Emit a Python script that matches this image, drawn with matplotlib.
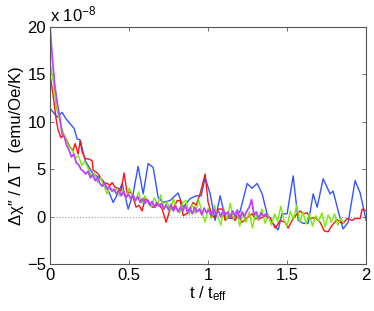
import matplotlib
matplotlib.use("Agg")
import matplotlib.pyplot as plt
import numpy as np

plt.rcParams['font.family'] = ['Liberation Sans', 'DejaVu Sans']
plt.rcParams['mathtext.fontset'] = 'custom'
plt.rcParams['mathtext.rm'] = 'Liberation Sans'
plt.rcParams['mathtext.it'] = 'Liberation Sans:italic'

# values in units of 1e-8 emu/Oe/K
blue_t = [0.0, 0.025, 0.044, 0.076, 0.101, 0.127, 0.152, 0.171, 0.19, 0.222,
          0.247, 0.272, 0.304, 0.335, 0.367, 0.399, 0.43, 0.456, 0.494, 0.525,
          0.557, 0.589, 0.62, 0.652, 0.684, 0.715, 0.759, 0.81, 0.842, 0.886,
          0.924, 0.956, 0.981, 1.013, 1.044, 1.076, 1.108, 1.146, 1.177, 1.203,
          1.247, 1.278, 1.31, 1.342, 1.373, 1.405, 1.443, 1.468, 1.5, 1.538,
          1.57, 1.601, 1.633, 1.665, 1.69, 1.728, 1.772, 1.791, 1.823, 1.854,
          1.886, 1.93, 1.962, 2.0]
blue_y = [11.4, 10.9, 10.5, 11.0, 10.3, 9.8, 9.3, 8.2, 8.1, 5.9,
          5.2, 4.5, 4.2, 3.8, 2.8, 1.5, 2.5, 3.5, 0.8, 2.4,
          5.3, 2.4, 5.6, 5.2, 2.0, 1.5, 1.7, 2.5, 1.0, 1.9,
          2.2, 2.2, 4.1, 2.4, -0.4, 2.2, -0.1, -0.2, 0.0, 0.6,
          3.5, 3.0, 3.5, 2.4, 0.3, -0.6, -1.4, 0.3, 0.3, 4.3,
          -0.4, -0.7, -0.7, 2.4, 1.0, 4.0, 2.4, 2.7, 0.6, -1.3,
          -0.6, 3.8, 2.5, -0.4]

red_t = [0.0, 0.019, 0.038, 0.051, 0.07, 0.082, 0.101, 0.127, 0.146, 0.158,
         0.177, 0.19, 0.203, 0.222, 0.241, 0.266, 0.272, 0.291, 0.304, 0.323,
         0.335, 0.361, 0.38, 0.392, 0.411, 0.43, 0.449, 0.468, 0.487, 0.506,
         0.519, 0.544, 0.563, 0.582, 0.601, 0.62, 0.646, 0.665, 0.684, 0.709,
         0.734, 0.759, 0.778, 0.804, 0.823, 0.842, 0.873, 0.905, 0.924, 0.949,
         0.981, 1.0, 1.025, 1.044, 1.063, 1.089, 1.108, 1.139, 1.171, 1.19,
         1.215, 1.247, 1.278, 1.297, 1.329, 1.361, 1.392, 1.424, 1.456, 1.487,
         1.506, 1.538, 1.563, 1.582, 1.601, 1.627, 1.646, 1.677, 1.709, 1.734,
         1.759, 1.785, 1.816, 1.835, 1.854, 1.88, 1.911, 1.93, 1.962, 1.975,
         2.0]
red_y = [14.9, 12.8, 10.3, 9.1, 8.3, 8.6, 8.2, 7.3, 7.0, 7.7,
         6.6, 8.0, 6.8, 6.1, 6.1, 5.9, 4.9, 4.7, 4.5, 4.0,
         3.6, 3.5, 3.3, 3.6, 3.1, 3.0, 2.7, 4.6, 2.5, 2.6,
         2.4, 1.0, 1.2, 0.6, 1.9, 1.7, 1.0, 1.0, 1.4, 0.8,
         -0.6, 0.8, 0.8, 1.7, 1.7, 0.1, 0.4, 1.5, 1.2, 2.4,
         4.5, 1.5, 0.1, -0.1, 0.8, 0.8, -0.4, 0.2, -0.4, 0.3,
         -0.6, -0.1, 0.3, -0.2, -0.2, 0.1, -0.1, -1.2, -0.4, -0.6,
         -1.2, -0.2, 0.3, 0.6, 0.3, 0.4, -0.2, -0.1, -0.6, -1.5,
         -1.6, -0.9, -0.3, -0.6, -0.7, -0.2, -0.4, -0.2, -0.2, 0.8,
         0.6]

green_y = [16.2, 14.3, 11.4, 10.2, 9.0, 8.2, 7.4, 7.0, 6.2, 6.4,
           5.4, 5.8, 5.1, 4.3, 4.6, 3.6, 4.1, 3.3, 2.4, 3.1,
           2.6, 3.0, 2.2, 2.8, 1.9, 3.0, 2.4, 1.6, 2.6, 1.4,
           2.2, 1.5, 1.0, 2.0, 1.2, 2.3, 0.8, 1.6, 0.6, 1.9,
           0.9, 0.4, 1.5, 1.7, 0.2, 1.3, 0.3, 1.8, 0.5, -0.6,
           0.9, -0.2, 1.2, 0.1, -0.9, 0.8, -0.3, 1.4, -0.2, 0.6,
           -1.0, 0.4, -0.6, 0.5, -1.2, 0.3, -0.4, 0.8, -0.7, 0.2,
           -0.9, 0.3, -0.5, 1.1, -0.4, -1.0, 0.6, -0.3, 1.2, -0.6,
           0.5, -0.8, 0.3, -1.0, 0.1, -0.5, 0.4, -1.1, 0.2, -0.6,
           0.3, -0.9, -0.2, -0.7]
green_t = np.linspace(0, 1.86, len(green_y))

purple_y = [20.0, 16.5, 13.8, 12.0, 10.6, 8.8, 8.4, 7.5, 7.0, 6.3,
            6.6, 5.7, 5.5, 5.0, 4.8, 4.5, 4.8, 4.1, 4.4, 3.8,
            4.1, 3.5, 3.2, 3.6, 2.9, 3.2, 2.7, 2.9, 2.4, 2.8,
            2.2, 2.6, 2.0, 2.4, 1.9, 2.3, 1.7, 2.1, 1.5, 1.9,
            1.4, 1.8, 1.2, 1.6, 1.0, 1.5, 1.1, 1.4, 0.8, 1.2,
            0.7, 1.3, 0.6, 1.1, 0.5, 1.0, 0.6, 1.2, 0.4, 0.9,
            0.3, 1.0, 0.5, 0.8, 0.2, 0.9, 0.4, 0.7, 0.1, 0.8,
            0.3, 0.6, 0.0, 0.7, 0.2, 0.5, -0.1, 0.6, 0.1, 0.7,
            -0.2, 0.5, 0.0, 0.6, 1.0, 1.8, 0.2, 0.5, -0.2, 0.4,
            0.0, 0.3, -0.1]
purple_t = np.linspace(0, 1.38, len(purple_y))

x_ticks = [0, 0.5, 1, 1.5, 2]
x_labels = ['0', '0.5', '1', '1.5', '2']
y_ticks = [-5, 0, 5, 10, 15, 20]


def main():
    fig = plt.figure(figsize=(3.74, 3.11), dpi=100)
    ax = fig.add_axes([0.134, 0.151, 0.845, 0.762])

    ax.plot([0, 2], [0, 0], ':', color='#999999', lw=0.8)
    ax.plot(blue_t, blue_y, color='#3355ff', lw=1.0)
    ax.plot(red_t, red_y, color='#ff1111', lw=1.0)
    ax.plot(green_t, green_y, color='#77ee00', lw=1.0)
    ax.plot(purple_t, purple_y, color='#bb44ff', lw=1.3)

    ax.set_xlim(0, 2)
    ax.set_ylim(-5, 20)
    ax.set_xticks(x_ticks)
    ax.set_xticklabels(x_labels)
    ax.set_yticks(y_ticks)
    ax.tick_params(direction='in', top=True, right=True, length=3,
                   width=0.6, color='#555555', labelsize=12, pad=3)
    for s in ax.spines.values():
        s.set_color('#555555')
        s.set_linewidth(0.8)

    ax.set_xlabel(r't / t$_{\mathrm{eff}}$', fontsize=12, labelpad=1)
    ax.set_ylabel('\u0394\u03c7\u2033 / \u0394 T  (emu/Oe/K)', fontsize=12,
                  labelpad=2)
    ax.text(0.0, 1.01, r'x 10$^{-8}$', transform=ax.transAxes,
            fontsize=12, ha='left', va='bottom')

    fig.savefig('out.png', dpi=100)


if __name__ == "__main__":
    main()
